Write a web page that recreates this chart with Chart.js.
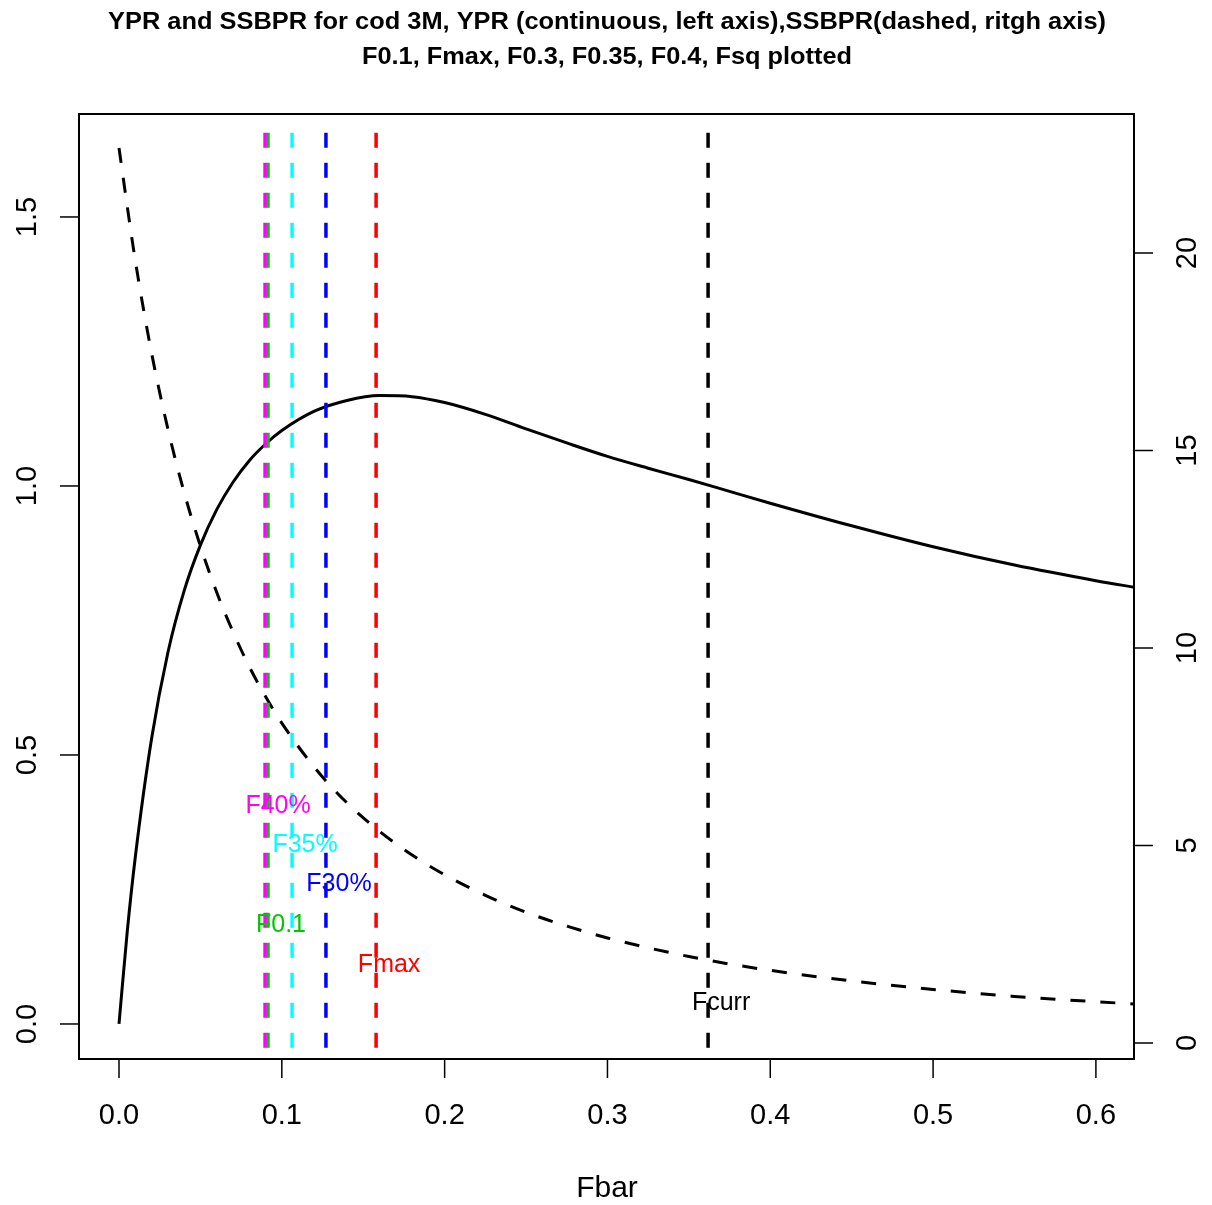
<!DOCTYPE html>
<html>
<head>
<meta charset="utf-8">
<script src="https://cdn.jsdelivr.net/npm/chart.js@4.4.1/dist/chart.umd.min.js"></script>
<style>
  html, body { margin: 0; padding: 0; background: #fff; }
  canvas { display: block; }
</style>
</head>
<body>
<canvas id="grafica" width="1212" height="1205"></canvas>
<script>
// ── DATOS ──────────────────────────────────────────────────
const fbar  = [0, 0.005, 0.01, 0.02, 0.03, 0.04, 0.05, 0.06, 0.07, 0.08, 0.09, 0.10,
               0.12, 0.14, 0.16, 0.18, 0.20, 0.225, 0.25, 0.275, 0.30, 0.325, 0.35,
               0.375, 0.40, 0.45, 0.50, 0.55, 0.60, 0.625];
const ypr   = [0, 0.17, 0.31, 0.53, 0.69, 0.805, 0.89, 0.956, 1.007, 1.047, 1.078, 1.103,
               1.139, 1.159, 1.168, 1.166, 1.155, 1.133, 1.106, 1.080, 1.055, 1.033, 1.012,
               0.990, 0.968, 0.926, 0.887, 0.853, 0.824, 0.811];
const ssbpr = [22.66, 21.2, 19.81, 17.47, 15.55, 13.94, 12.58, 11.41, 10.41, 9.53, 8.77, 8.10,
               6.98, 6.08, 5.36, 4.76, 4.26, 3.74, 3.31, 2.96, 2.66, 2.41, 2.19,
               2.00, 1.84, 1.57, 1.355, 1.18, 1.045, 0.985];

// puntos de referencia (líneas verticales)
const refNames  = ['F40%', 'F0.1', 'F35%', 'F30%', 'Fmax', 'Fcurr'];
const refF      = [0.0897, 0.0915, 0.1063, 0.1271, 0.1579, 0.3618];
const refColors = ['#ff00ff', '#00c800', '#00ffff', '#0000ff', '#ff0000', '#000000'];
const refLabelY = [0.405, 0.184, 0.333, 0.260, 0.110, 0.039];

const xTicks  = [0, 0.1, 0.2, 0.3, 0.4, 0.5, 0.6];
const yTicks  = [0, 0.5, 1.0, 1.5];
const y2Ticks = [0, 5, 10, 15, 20];

const titulo1 = 'YPR and SSBPR for cod 3M, YPR (continuous, left axis),SSBPR(dashed, ritgh axis)';
const titulo2 = 'F0.1, Fmax, F0.3, F0.35, F0.4, Fsq plotted';

const FONT = '"Liberation Sans", Arial, sans-serif';

// ── DATASETS ───────────────────────────────────────────────
const datasets = [];
refF.forEach((f, i) => {
    datasets.push({
        data: [{ x: f, y: -0.1 }, { x: f, y: 1.662 }],
        yAxisID: 'y',
        borderColor: refColors[i],
        borderWidth: 3.5,
        borderDash: [15, 15],
        pointRadius: 0,
        showLine: true,
    });
});
datasets.push({
    data: fbar.map((f, i) => ({ x: f, y: ypr[i] })),
    yAxisID: 'y',
    borderColor: '#000',
    borderWidth: 3,
    pointRadius: 0,
    showLine: true,
    cubicInterpolationMode: 'monotone',
});
datasets.push({
    data: fbar.map((f, i) => ({ x: f, y: ssbpr[i] })),
    yAxisID: 'y2',
    borderColor: '#000',
    borderWidth: 3,
    borderDash: [15, 15],
    pointRadius: 0,
    showLine: true,
    cubicInterpolationMode: 'monotone',
});

// ── EJES ESTILO R (dibujados a mano con las escalas de Chart.js) ──
const ejesR = {
    id: 'ejesR',
    afterDraw(chart) {
        const ctx = chart.ctx;
        const a = chart.chartArea;
        const sx = chart.scales.x, sy = chart.scales.y, sy2 = chart.scales.y2;
        const tick = 19;
        ctx.save();
        ctx.strokeStyle = '#000';
        ctx.fillStyle = '#000';
        ctx.lineWidth = 2;
        ctx.strokeRect(a.left, a.top, a.right - a.left, a.bottom - a.top);

        ctx.lineWidth = 1.5;
        ctx.font = '29px ' + FONT;
        // eje x
        ctx.textAlign = 'center';
        ctx.textBaseline = 'middle';
        xTicks.forEach(v => {
            const px = sx.getPixelForValue(v);
            ctx.beginPath(); ctx.moveTo(px, a.bottom); ctx.lineTo(px, a.bottom + tick); ctx.stroke();
            ctx.fillText(v.toFixed(1), px, 1116);
        });
        // eje y izquierdo
        yTicks.forEach(v => {
            const py = sy.getPixelForValue(v);
            ctx.beginPath(); ctx.moveTo(a.left, py); ctx.lineTo(a.left - tick, py); ctx.stroke();
            ctx.save(); ctx.translate(28, py); ctx.rotate(-Math.PI / 2);
            ctx.fillText(v.toFixed(1), 0, 0); ctx.restore();
        });
        // eje y derecho
        y2Ticks.forEach(v => {
            const py = sy2.getPixelForValue(v);
            ctx.beginPath(); ctx.moveTo(a.right, py); ctx.lineTo(a.right + tick, py); ctx.stroke();
            ctx.save(); ctx.translate(1188, py); ctx.rotate(-Math.PI / 2);
            ctx.fillText(String(v), 0, 0); ctx.restore();
        });
        // etiqueta eje x
        ctx.font = '30px ' + FONT;
        ctx.fillText('Fbar', 607, 1189);

        // títulos (ajustados al ancho del original)
        const dibujarTitulo = (txt, y, ancho) => {
            ctx.font = 'bold 24px ' + FONT;
            const w = ctx.measureText(txt).width;
            ctx.save(); ctx.translate(607, y); ctx.scale(ancho / w, 1);
            ctx.fillText(txt, 0, 0); ctx.restore();
        };
        dibujarTitulo(titulo1, 22, 998);
        dibujarTitulo(titulo2, 57, 490);

        // etiquetas de las líneas verticales
        ctx.font = '25px ' + FONT;
        refF.forEach((f, i) => {
            ctx.fillStyle = refColors[i];
            ctx.fillText(refNames[i], sx.getPixelForValue(f + 0.008), sy.getPixelForValue(refLabelY[i]));
        });
        ctx.restore();
    }
};

new Chart(document.getElementById('grafica'), {
    type: 'scatter',
    data: { datasets: datasets },
    options: {
        responsive: false,
        animation: false,
        layout: { padding: { left: 79, right: 78, top: 114, bottom: 146 } },
        plugins: { legend: { display: false }, tooltip: { enabled: false } },
        scales: {
            x:  { type: 'linear', min: -0.02457, max: 0.6234, display: false },
            y:  { type: 'linear', min: -0.0651, max: 1.6914, display: false },
            y2: { type: 'linear', min: -0.405, max: 23.519, display: false, position: 'right' },
        }
    },
    plugins: [ejesR]
});
</script>
</body>
</html>
